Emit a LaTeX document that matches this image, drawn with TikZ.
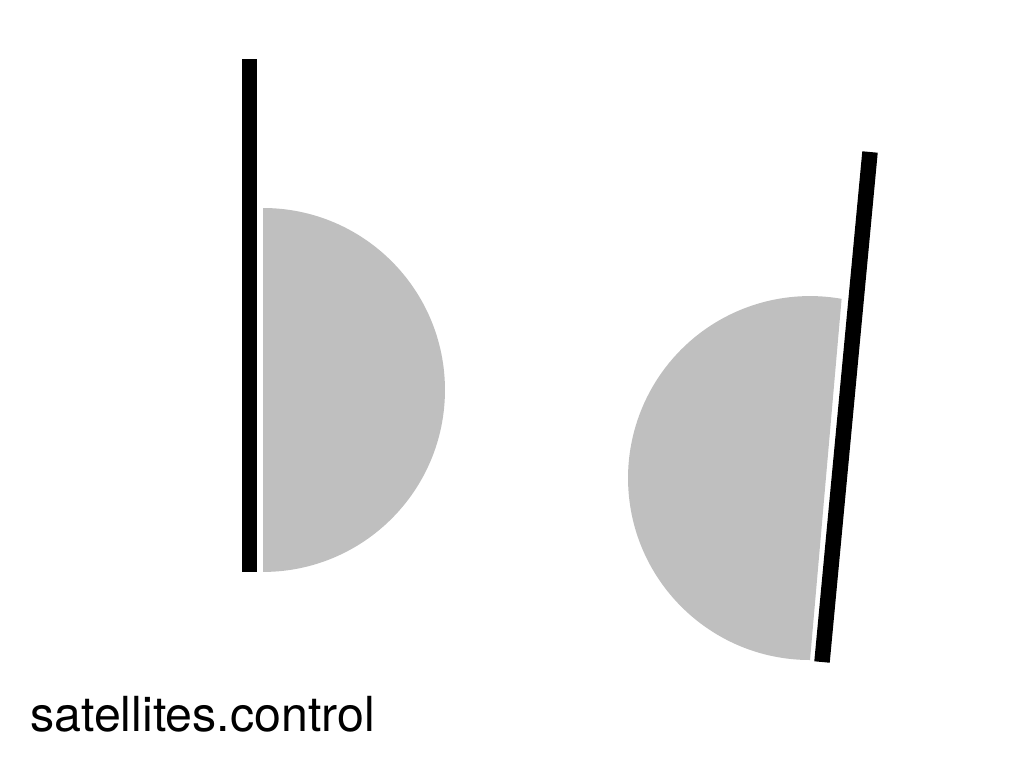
\documentclass[tikz,border=0pt]{standalone}
\usepackage{fontspec}
\newfontfamily\captionfont{TeX Gyre Heros}
\usetikzlibrary{positioning}

\begin{document}
\begin{tikzpicture}[
      x=0.02cm,
      y=-0.02cm,
      panel/.style={
        line width=0.3cm,
        draw=black,
        line cap=butt
      },
      dish/.style={
        fill=gray!50,
        draw=none
      },
      caption/.style={
        font=\captionfont\fontsize{27.5}{30}\selectfont,
        inner sep=0pt,
        anchor=base west
      }
    ]

    \useasboundingbox (0,0) rectangle (1024,768);

    % Coordinates: upright satellite (left) and tilted one (right).
    \coordinate (Ltop) at (249.5,59);     % panel top
    \coordinate (Lbot) at (249.5,572);    % panel bottom
    \coordinate (Ldish) at (263,208);     % flat edge, top
    \coordinate (Rtop) at (870,152);      % panel top
    \coordinate (Rbot) at (822,662);      % panel bottom
    \coordinate (Rdish) at (810,660);     % flat edge, bottom

    % Dishes
    \fill[dish] (Ldish) arc[start angle=90, end angle=-90, radius=3.64cm] -- cycle;
    \fill[dish] (Rdish) arc[start angle=270, end angle=80, radius=3.64cm] -- cycle;

    % Panels
    \draw[panel] (Ltop) -- (Lbot);
    \draw[panel, line width=0.31cm] (Rtop) -- (Rbot);

    % Label
    \node[caption] (title) at (30,731) {satellites.control};

    \end{tikzpicture}
\end{document}
